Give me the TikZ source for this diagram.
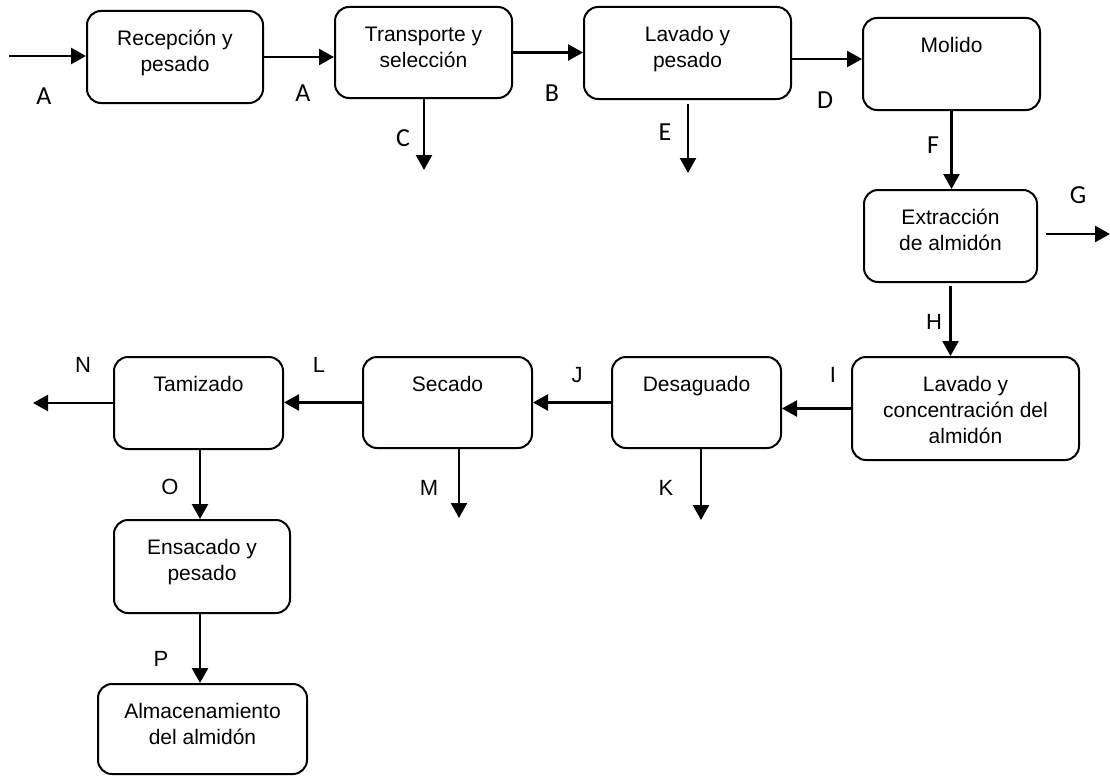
\documentclass[tikz,border=0pt]{standalone}
\usepackage{fontspec}
\setmainfont{Liberation Sans}
\newfontfamily\calibfont{Carlito}
\usetikzlibrary{arrows.meta}
\newcommand\bxst{\rule{0pt}{20pt}}
\begin{document}
\begin{tikzpicture}[x=1pt,y=-1pt,
  box/.style={draw, line width=2pt, rounded corners=14pt, inner sep=0pt},
  btxt/.style={anchor=north, yshift=-15.5pt, align=center, inner sep=0pt, font=\fontsize{21}{26}\selectfont},
  arr/.style={line width=2.4pt, -{Triangle[length=15pt,width=16pt]}},
  lc/.style={inner sep=0pt, font=\calibfont\fontsize{26}{30}\selectfont},
  la/.style={inner sep=0pt, font=\fontsize{22}{26}\selectfont}]
\useasboundingbox (0,0) rectangle (1110,776);

% process boxes
\node[box, minimum width=176pt, minimum height=92pt, label={[btxt]north:\bxst Recepción y\\pesado}] (rec) at (175,57) {};
\node[box, minimum width=177pt, minimum height=91pt, label={[btxt]north:\bxst Transporte y\\selección}] (tra) at (423.5,52.5) {};
\node[box, minimum width=207pt, minimum height=92pt, label={[btxt]north:\bxst Lavado y\\pesado}] (lav) at (687.5,53) {};
\node[box, minimum width=177pt, minimum height=92pt, label={[btxt]north:\bxst Molido}] (mol) at (951.5,64) {};
\node[box, minimum width=173pt, minimum height=92pt, label={[btxt]north:\bxst Extracción\\de almidón}] (ext) at (950.5,236) {};
\node[box, minimum width=227pt, minimum height=103pt, label={[btxt]north:\bxst Lavado y\\concentración del\\almidón}] (lco) at (965.5,408.5) {};
\node[box, minimum width=169pt, minimum height=91pt, label={[btxt]north:\bxst Desaguado}] (des) at (696.5,402.5) {};
\node[box, minimum width=169pt, minimum height=91pt, label={[btxt]north:\bxst Secado}] (sec) at (447.5,402.5) {};
\node[box, minimum width=169pt, minimum height=92pt, label={[btxt]north:\bxst Tamizado}] (tam) at (198.5,403) {};
\node[box, minimum width=176pt, minimum height=93pt, label={[btxt]north:\bxst Ensacado y\\pesado}] (ens) at (202,566.5) {};
\node[box, minimum width=209pt, minimum height=90pt, label={[btxt]north:\bxst Almacenamiento\\del almidón}] (alm) at (202.5,729) {};

% free ends
\coordinate (cin) at (9,56);
\coordinate (cC) at (424,170);
\coordinate (cE) at (688,173);
\coordinate (cG) at (1110,234);
\coordinate (cN) at (33,403);
\coordinate (cM) at (459,518);
\coordinate (cK) at (701,520);
\coordinate (xO) at (200,0);

% connectors
\draw[arr] (cin) -- (cin -| rec.west);
\draw[arr] (rec.east) -- (rec.east -| tra.west);
\draw[arr] (tra.east) -- (tra.east -| lav.west);
\draw[arr] ([yshift=-6pt]lav.east) -- ([yshift=-6pt]lav.east -| mol.west);
\draw[arr] (tra.south -| cC) -- (cC);
\draw[arr] ([yshift=-4pt]lav.south -| cE) -- (cE);
\draw[arr] (mol.south) -- (mol.south |- ext.north);
\draw[arr] ([xshift=8pt]ext.east |- cG) -- (cG);
\draw[arr] ([yshift=-3pt]ext.south) -- (ext.south |- lco.north);
\draw[arr] (lco.west) -- (lco.west -| des.east);
\draw[arr] (des.west) -- (des.west -| sec.east);
\draw[arr] (sec.west) -- (sec.west -| tam.east);
\draw[arr] (tam.west) -- (cN);
\draw[arr] (sec.south -| cM) -- (cM);
\draw[arr] (des.south -| cK) -- (cK);
\draw[arr] (tam.south -| xO) -- (ens.north -| xO);
\draw[arr] (ens.south -| xO) -- (alm.north -| xO);

% stream labels
\node[lc] (lA1) at (44,96) {A};
\node[lc] (lA2) at (303,93) {A};
\node[lc] (lB) at (552,93) {B};
\node[lc] (lC) at (403,138) {C};
\node[lc] (lD) at (825,100) {D};
\node[lc] (lE) at (665,132) {E};
\node[lc] (lF) at (933,145) {F};
\node[lc] (lG) at (1078,195) {G};
\node[la] (lH) at (934,322) {H};
\node[la] (lI) at (833,375) {I};
\node[la] (lJ) at (577,375) {J};
\node[la] (lK) at (666,488) {K};
\node[la] (lL) at (319,365) {L};
\node[la] (lM) at (429,488) {M};
\node[la] (lN) at (83,365) {N};
\node[la] (lO) at (170,487) {O};
\node[la] (lP) at (161,659) {P};
\end{tikzpicture}
\end{document}
